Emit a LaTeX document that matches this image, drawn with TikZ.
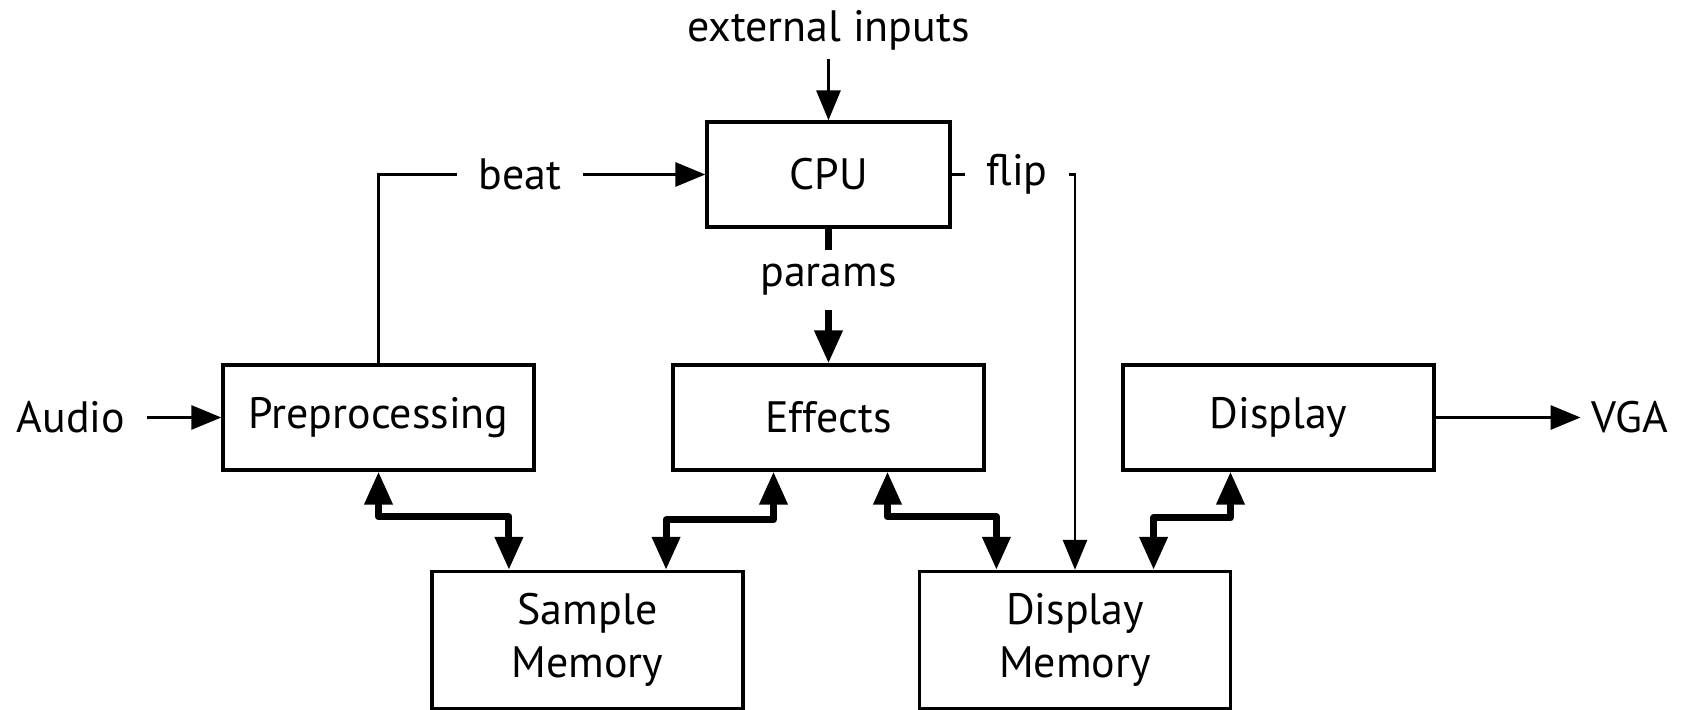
\documentclass[tikz,border=0pt]{standalone}
\usepackage{fontspec}
\setmainfont{PT Sans}
\usetikzlibrary{arrows.meta,calc}
\begin{document}
\begin{tikzpicture}[font=\fontsize{12.5}{15}\selectfont,
    block/.style={draw, line width=0.95pt, minimum width=3.11cm, minimum height=1.05cm, inner sep=2pt},
    lbl/.style={inner sep=6pt},
    sig/.style={line width=0.85pt, -{Triangle[length=3mm,width=2.4mm]}},
    bus/.style={line width=2pt, line join=round, {Triangle[length=3.3mm,width=2.7mm]}-{Triangle[length=3.3mm,width=2.7mm]}}]
    \useasboundingbox (0,0) rectangle (16.93,7.10);
    \node[block, minimum width=2.43cm] (cpu) at (8.285,5.355) {CPU};
    \node[block] (pre) at (3.785,2.925) {Preprocessing};
    \node[block] (eff) at (8.285,2.925) {Effects};
    \node[block] (disp) at (12.785,2.925) {Display};
    \node[block, minimum height=1.37cm, align=center] (smem) at (5.875,0.70) {Sample\\Memory};
    \node[block, minimum height=1.37cm, align=center] (dmem) at (10.75,0.70) {Display\\Memory};
    \node[lbl, inner sep=2.5pt] (ext) at (8.285,6.80) {external inputs};
    \node[lbl] (audio) at (0.71,2.925) {Audio};
    \node[lbl, inner sep=3pt] (vga) at (16.30,2.925) {VGA};
    \node[lbl] (beat) at (5.20,5.355) {beat};
    \node[lbl] (flip) at (10.17,5.355) {flip};
    \node[lbl, inner sep=4pt] (params) at (8.285,4.30) {params};
    \coordinate (s1) at ($(smem.north west)!.25!(smem.north east)$);
    \coordinate (s2) at ($(smem.north west)!.75!(smem.north east)$);
    \coordinate (d1) at ($(dmem.north west)!.25!(dmem.north east)$);
    \coordinate (d2) at ($(dmem.north west)!.75!(dmem.north east)$);
    \draw[sig] (ext.south) -- (cpu.north);
    \draw[sig] (audio.east) -- (pre.west);
    \draw[sig] (disp.east) -- (vga.west);
    \draw[line width=0.85pt] (pre.north) |- (beat.west);
    \draw[sig] (beat.east) -- (cpu.west);
    \draw[line width=0.85pt] (cpu.east) -- (flip.west);
    \draw[sig] (flip.east) -| (dmem.north);
    \draw[line width=2pt] (cpu.south) -- (params.north);
    \draw[line width=2pt, -{Triangle[length=3.3mm,width=2.7mm]}] (params.south) -- (eff.north);
    \draw[bus] (pre.south) |- ($(s1)+(0,0.53)$) -- (s1);
    \draw[bus] ($(eff.south)+(-0.55,0)$) |- ($(s2)+(0,0.50)$) -- (s2);
    \draw[bus] ($(eff.south)+(0.59,0)$) |- ($(d1)+(0,0.53)$) -- (d1);
    \draw[bus] ($(disp.south)+(-0.48,0)$) |- ($(d2)+(0,0.52)$) -- (d2);
  \end{tikzpicture}
\end{document}
